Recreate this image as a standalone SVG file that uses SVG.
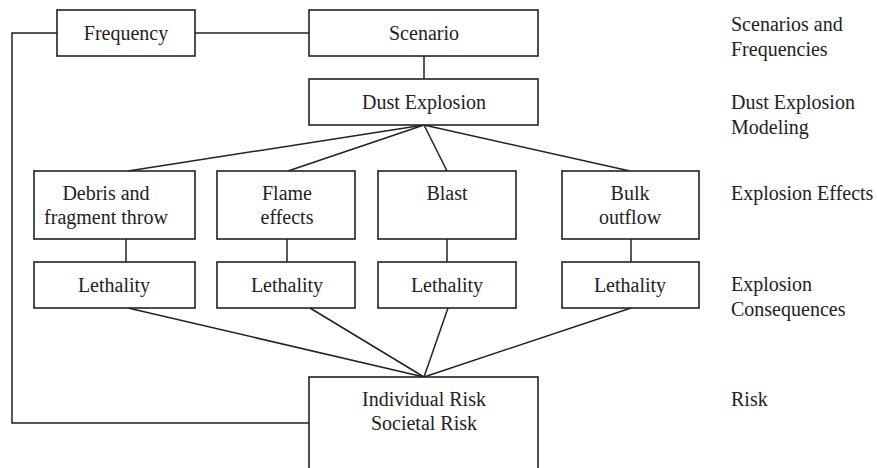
<svg xmlns="http://www.w3.org/2000/svg" width="877" height="468" viewBox="0 0 877 468">
  <style>
    .box { fill: #fff; stroke: #222; stroke-width: 1.6; }
    .conn { fill: none; stroke: #222; stroke-width: 1.5; }
    text { font-family: 'Liberation Serif', 'DejaVu Serif', Times, serif; font-size: 20px; fill: #222; }
    .c { text-anchor: middle; }
  </style>
  <rect width="877" height="468" fill="#fff"/>

  <!-- connectors -->
  <g id="connectors">
    <line class="conn" x1="195" y1="33" x2="309" y2="33"/>
    <polyline class="conn" points="57,33 12,33 12,423 309,423"/>
    <line class="conn" x1="424" y1="56" x2="424" y2="79"/>
    <line class="conn" x1="424" y1="125" x2="128" y2="171"/>
    <line class="conn" x1="424" y1="125" x2="288" y2="171"/>
    <line class="conn" x1="424" y1="125" x2="447" y2="171"/>
    <line class="conn" x1="424" y1="125" x2="630" y2="171"/>
    <line class="conn" x1="126" y1="239" x2="126" y2="262"/>
    <line class="conn" x1="287" y1="239" x2="287" y2="262"/>
    <line class="conn" x1="447" y1="239" x2="447" y2="262"/>
    <line class="conn" x1="631" y1="239" x2="631" y2="262"/>
    <line class="conn" x1="128" y1="308" x2="424" y2="377"/>
    <line class="conn" x1="310" y1="308" x2="424" y2="377"/>
    <line class="conn" x1="448" y1="308" x2="424" y2="377"/>
    <line class="conn" x1="631" y1="308" x2="424" y2="377"/>
  </g>

  <g id="frequency">
    <rect class="box" x="57" y="10" width="138" height="46"/>
    <text class="c" x="126" y="40">Frequency</text>
  </g>
  <g id="scenario">
    <rect class="box" x="309" y="10" width="229" height="46"/>
    <text class="c" x="424" y="40">Scenario</text>
  </g>
  <g id="dust-explosion">
    <rect class="box" x="309" y="79" width="229" height="46"/>
    <text class="c" x="424" y="109">Dust Explosion</text>
  </g>

  <g id="debris">
    <rect class="box" x="34" y="171" width="161" height="68"/>
    <text class="c" x="106" y="200">Debris and</text>
    <text class="c" x="106" y="224">fragment throw</text>
  </g>
  <g id="flame">
    <rect class="box" x="217" y="171" width="138" height="68"/>
    <text class="c" x="287" y="200">Flame</text>
    <text class="c" x="287" y="224">effects</text>
  </g>
  <g id="blast">
    <rect class="box" x="378" y="171" width="138" height="68"/>
    <text class="c" x="447" y="200">Blast</text>
  </g>
  <g id="bulk">
    <rect class="box" x="562" y="171" width="137" height="68"/>
    <text class="c" x="630" y="200">Bulk</text>
    <text class="c" x="630" y="224">outflow</text>
  </g>

  <g id="lethality-1">
    <rect class="box" x="34" y="262" width="161" height="46"/>
    <text class="c" x="114" y="292">Lethality</text>
  </g>
  <g id="lethality-2">
    <rect class="box" x="217" y="262" width="138" height="46"/>
    <text class="c" x="287" y="292">Lethality</text>
  </g>
  <g id="lethality-3">
    <rect class="box" x="378" y="262" width="138" height="46"/>
    <text class="c" x="447" y="292">Lethality</text>
  </g>
  <g id="lethality-4">
    <rect class="box" x="562" y="262" width="137" height="46"/>
    <text class="c" x="630" y="292">Lethality</text>
  </g>

  <g id="risk">
    <rect class="box" x="309" y="377" width="229" height="95"/>
    <text class="c" x="424" y="406">Individual Risk</text>
    <text class="c" x="424" y="430">Societal Risk</text>
  </g>

  <!-- stage labels -->
  <g id="stage-labels">
    <text x="731" y="31">Scenarios and</text>
    <text x="731" y="56">Frequencies</text>
    <text x="731" y="109">Dust Explosion</text>
    <text x="731" y="134">Modeling</text>
    <text x="731" y="200">Explosion Effects</text>
    <text x="731" y="291">Explosion</text>
    <text x="731" y="316">Consequences</text>
    <text x="731" y="406">Risk</text>
  </g>
</svg>
